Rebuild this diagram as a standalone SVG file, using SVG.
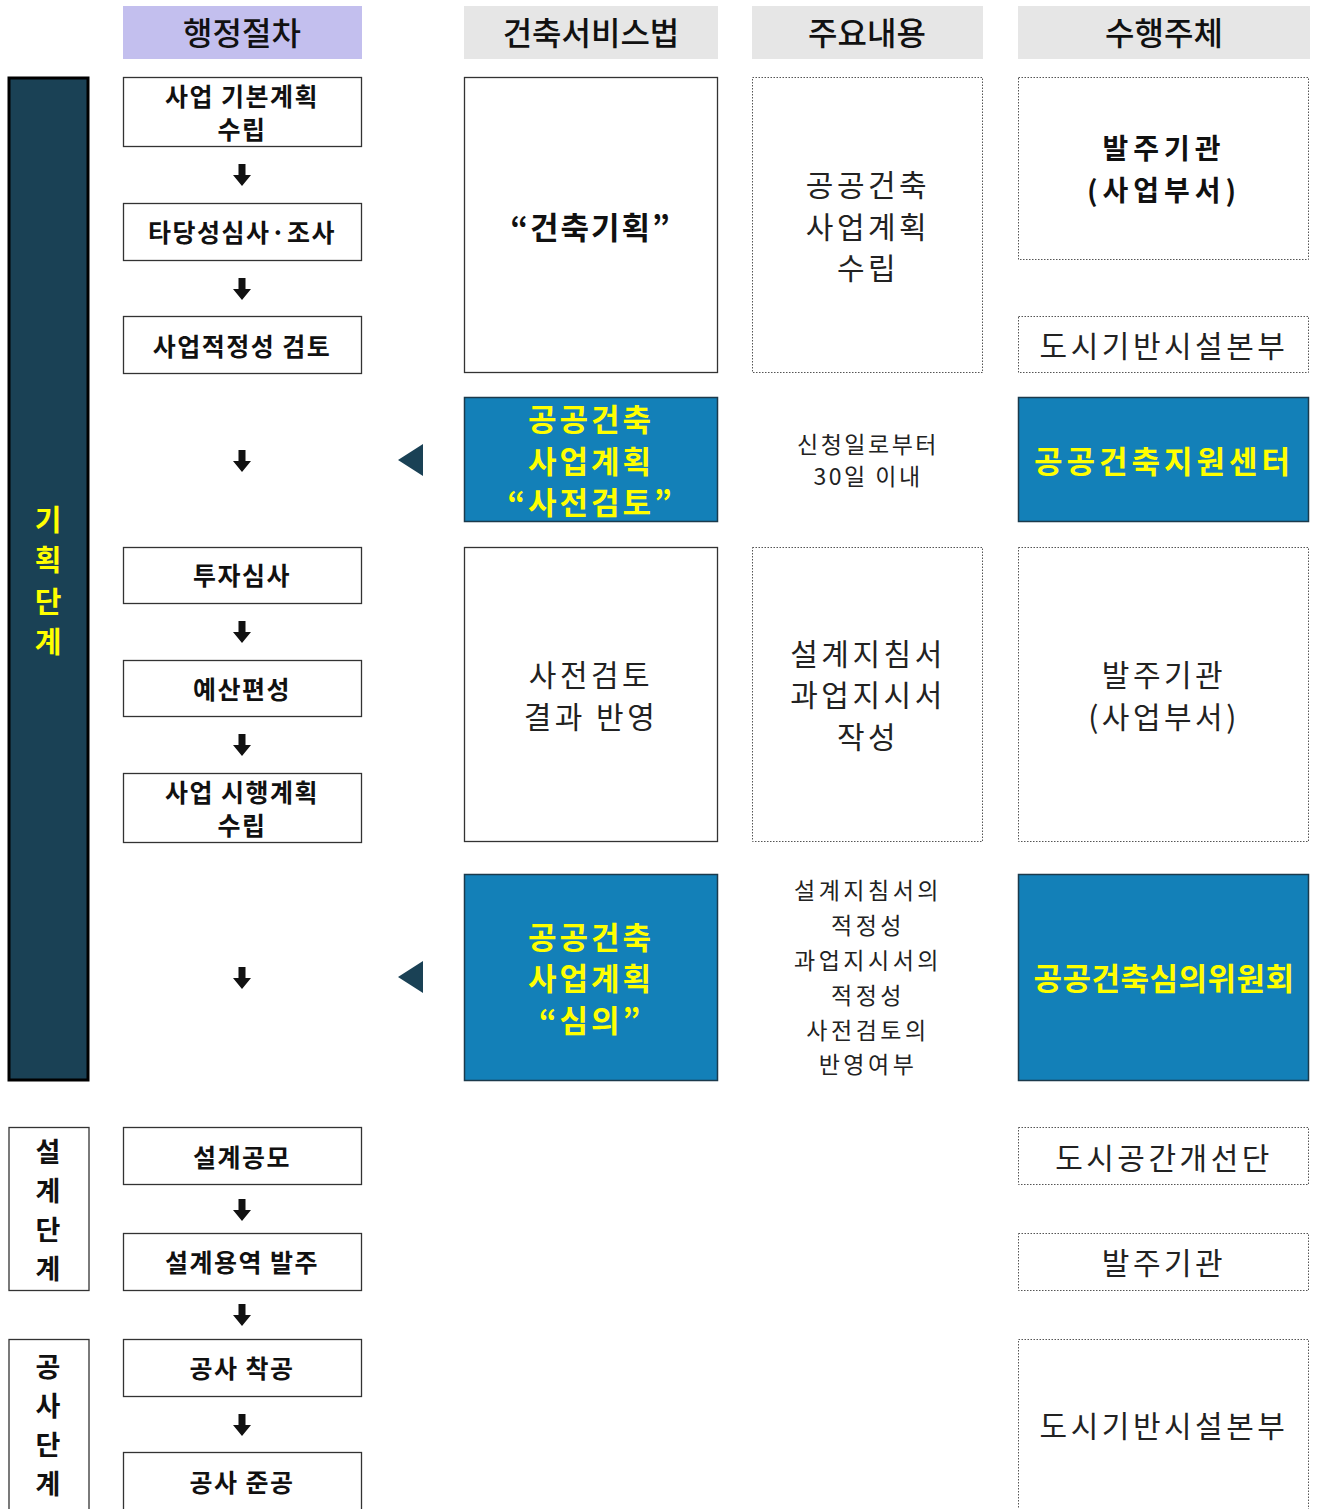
<svg xmlns="http://www.w3.org/2000/svg" width="1318" height="1509" viewBox="0 0 1318 1509">
<defs>
<style>
text{font-family:"Noto Sans CJK KR","Noto Sans",sans-serif;text-anchor:middle;dominant-baseline:central}
.hdr{font-size:32px;font-weight:500;fill:#111}
.proc{fill:#fff;stroke:#333;stroke-width:1.3}
.ptxt{font-size:25px;font-weight:700;fill:#111;letter-spacing:1.5px}
.solid{fill:#fff;stroke:#333;stroke-width:1.3}
.blue{fill:#1380b8;stroke:#1b3a4c;stroke-width:1.5}
.ytxt{font-size:31px;font-weight:700;fill:#ffff00;letter-spacing:3px}
.dot{fill:#fff;stroke:#555;stroke-width:1;stroke-dasharray:1.5 1.5}
.reg{font-size:30px;fill:#222;letter-spacing:3.5px}
.sm{font-size:23px;fill:#222;letter-spacing:2.5px}
.lst{font-size:23px;fill:#222;letter-spacing:3.5px}
.bigb{font-size:31px;font-weight:700;fill:#111;letter-spacing:2px}
.vert{font-size:27px;font-weight:700}
</style>
<path id="dn" d="M-3.5,-11 H3.5 V0 H9 L0,11 L-9,0 H-3.5 Z" fill="#111"/>
<path id="lt" d="M0,0 L25,-16 L25,16 Z" fill="#1a4155"/>
</defs>

<g id="headers">
<rect x="123" y="6" width="239" height="53" fill="#c3bfee"/>
<text class="hdr" x="242" y="31">행정절차</text>
<rect x="464" y="6" width="254" height="53" fill="#e6e6e6"/>
<text class="hdr" x="591" y="31">건축서비스법</text>
<rect x="752" y="6" width="231" height="53" fill="#e6e6e6"/>
<text class="hdr" x="867" y="31">주요내용</text>
<rect x="1018" y="6" width="292" height="53" fill="#e6e6e6"/>
<text class="hdr" x="1164" y="31">수행주체</text>
</g>

<g id="phase-planning">
<rect x="9" y="78" width="79" height="1002" fill="#1a4155" stroke="#000" stroke-width="3"/>
<text class="vert" fill="#ffff00" style="font-size:29px"><tspan x="48" y="518">기</tspan><tspan x="48" y="558">획</tspan><tspan x="48" y="600">단</tspan><tspan x="48" y="640">계</tspan></text>
</g>
<g id="phase-design">
<rect x="9" y="1127.5" width="80" height="163" fill="#fff" stroke="#333" stroke-width="1.3"/>
<text class="vert" fill="#111"><tspan x="48" y="1150">설</tspan><tspan x="48" y="1189">계</tspan><tspan x="48" y="1228">단</tspan><tspan x="48" y="1267">계</tspan></text>
</g>
<g id="phase-construction">
<rect x="9" y="1339.5" width="80" height="175" fill="#fff" stroke="#333" stroke-width="1.3"/>
<text class="vert" fill="#111"><tspan x="48" y="1365">공</tspan><tspan x="48" y="1404">사</tspan><tspan x="48" y="1443">단</tspan><tspan x="48" y="1482">계</tspan></text>
</g>

<g id="p1"><rect class="proc" x="123.5" y="77.5" width="238" height="69"/><text class="ptxt" x="242" y="95">사업 기본계획</text><text class="ptxt" x="242" y="128">수립</text></g>
<g id="p2"><rect class="proc" x="123.5" y="203.5" width="238" height="57"/><text class="ptxt" x="242" y="231">타당성심사·조사</text></g>
<g id="p3"><rect class="proc" x="123.5" y="316.5" width="238" height="57"/><text class="ptxt" x="242" y="345">사업적정성 검토</text></g>
<g id="p4"><rect class="proc" x="123.5" y="547.5" width="238" height="56"/><text class="ptxt" x="242" y="574">투자심사</text></g>
<g id="p5"><rect class="proc" x="123.5" y="660.5" width="238" height="56"/><text class="ptxt" x="242" y="688">예산편성</text></g>
<g id="p6"><rect class="proc" x="123.5" y="773.5" width="238" height="69"/><text class="ptxt" x="242" y="791">사업 시행계획</text><text class="ptxt" x="242" y="824">수립</text></g>
<g id="p7"><rect class="proc" x="123.5" y="1127.5" width="238" height="57"/><text class="ptxt" x="242" y="1156">설계공모</text></g>
<g id="p8"><rect class="proc" x="123.5" y="1233.5" width="238" height="57"/><text class="ptxt" x="242" y="1261">설계용역 발주</text></g>
<g id="p9"><rect class="proc" x="123.5" y="1339.5" width="238" height="57"/><text class="ptxt" x="242" y="1367">공사 착공</text></g>
<g id="p10"><rect class="proc" x="123.5" y="1452.5" width="238" height="62"/><text class="ptxt" x="242" y="1481">공사 준공</text></g>

<g id="law1"><rect class="solid" x="464.5" y="77.5" width="253" height="295"/><text class="bigb" x="591" y="225">“건축기획”</text></g>
<g id="law2"><rect class="blue" x="464.5" y="397.5" width="253" height="124"/><text class="ytxt" x="591" y="417">공공건축</text><text class="ytxt" x="591" y="459">사업계획</text><text class="ytxt" x="591" y="500">“사전검토”</text></g>
<g id="law3"><rect class="solid" x="464.5" y="547.5" width="253" height="294"/><text class="reg" x="591" y="673">사전검토</text><text class="reg" x="591" y="715">결과 반영</text></g>
<g id="law4"><rect class="blue" x="464.5" y="874.5" width="253" height="206"/><text class="ytxt" x="591" y="935">공공건축</text><text class="ytxt" x="591" y="976">사업계획</text><text class="ytxt" x="591" y="1018">“심의”</text></g>

<g id="c1"><rect class="dot" x="752.5" y="77.5" width="230" height="295"/><text class="reg" x="868" y="183">공공건축</text><text class="reg" x="868" y="225">사업계획</text><text class="reg" x="868" y="266">수립</text></g>
<g id="c2"><text class="sm" x="868" y="443">신청일로부터</text><text class="sm" x="868" y="475">30일 이내</text></g>
<g id="c3"><rect class="dot" x="752.5" y="547.5" width="230" height="294"/><text class="reg" x="868" y="652">설계지침서</text><text class="reg" x="868" y="693">과업지시서</text><text class="reg" x="868" y="735">작성</text></g>
<g id="c4"><text class="lst" x="868" y="889">설계지침서의</text><text class="lst" x="868" y="924">적정성</text><text class="lst" x="868" y="959">과업지시서의</text><text class="lst" x="868" y="994">적정성</text><text class="lst" x="868" y="1029">사전검토의</text><text class="lst" x="868" y="1063">반영여부</text></g>

<g id="a1"><rect class="dot" x="1018.5" y="77.5" width="290" height="182"/><text class="bigb" x="1164" y="147" style="font-size:28px;letter-spacing:5px">발주기관</text><text class="bigb" x="1164" y="189" style="font-size:28px;letter-spacing:5px">(사업부서)</text></g>
<g id="a2"><rect class="dot" x="1018.5" y="316.5" width="290" height="56"/><text class="reg" x="1164" y="344">도시기반시설본부</text></g>
<g id="a3"><rect class="blue" x="1018.5" y="397.5" width="290" height="124"/><text class="ytxt" x="1164" y="459" style="letter-spacing:4px">공공건축지원센터</text></g>
<g id="a4"><rect class="dot" x="1018.5" y="547.5" width="290" height="294"/><text class="reg" x="1164" y="673">발주기관</text><text class="reg" x="1164" y="715">(사업부서)</text></g>
<g id="a5"><rect class="blue" x="1018.5" y="874.5" width="290" height="206"/><text class="ytxt" x="1164" y="976" style="letter-spacing:0.5px">공공건축심의위원회</text></g>
<g id="a6"><rect class="dot" x="1018.5" y="1127.5" width="290" height="57"/><text class="reg" x="1164" y="1156">도시공간개선단</text></g>
<g id="a7"><rect class="dot" x="1018.5" y="1233.5" width="290" height="57"/><text class="reg" x="1164" y="1261">발주기관</text></g>
<g id="a8"><rect class="dot" x="1018.5" y="1339.5" width="290" height="175"/><text class="reg" x="1164" y="1424">도시기반시설본부</text></g>

<g id="connectors">
<use href="#dn" x="242" y="175"/>
<use href="#dn" x="242" y="289"/>
<use href="#dn" x="242" y="461"/>
<use href="#dn" x="242" y="632"/>
<use href="#dn" x="242" y="745"/>
<use href="#dn" x="242" y="978"/>
<use href="#dn" x="242" y="1210"/>
<use href="#dn" x="242" y="1315"/>
<use href="#dn" x="242" y="1425"/>
<use href="#lt" x="398" y="460"/>
<use href="#lt" x="398" y="977"/>
</g>
</svg>
